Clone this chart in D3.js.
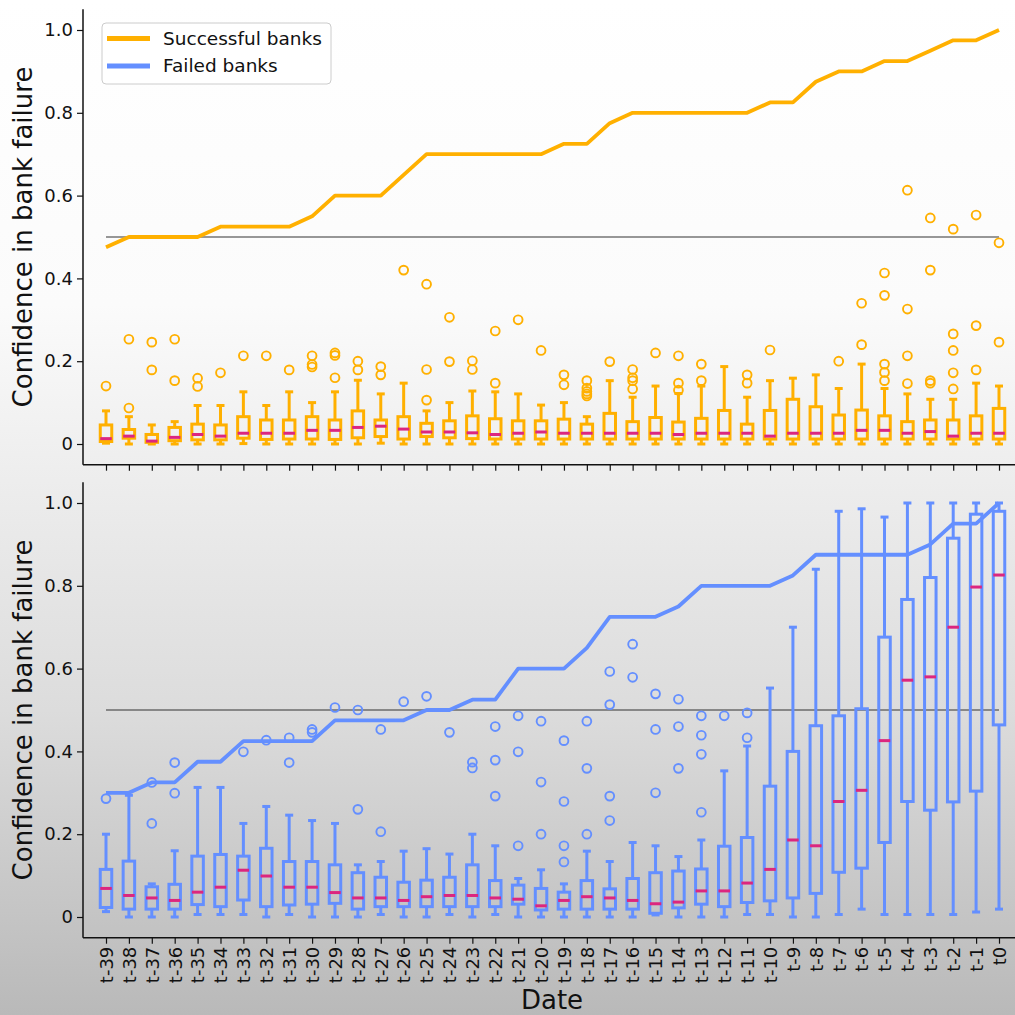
<!DOCTYPE html>
<html>
<head>
<meta charset="utf-8">
<script src="https://cdn.jsdelivr.net/npm/d3@7"></script>
<style>
  html, body { margin: 0; padding: 0; }
  svg { display: block; font-family: "DejaVu Sans", sans-serif; }
</style>
</head>
<body>
<svg id="chart" width="1015" height="1015"></svg>
<script>
// Dates before failure, oldest first
const dates = ["t-39","t-38","t-37","t-36","t-35","t-34","t-33","t-32","t-31","t-30",
  "t-29","t-28","t-27","t-26","t-25","t-24","t-23","t-22","t-21","t-20",
  "t-19","t-18","t-17","t-16","t-15","t-14","t-13","t-12","t-11","t-10",
  "t-9","t-8","t-7","t-6","t-5","t-4","t-3","t-2","t-1","t0"];

const yTicks = [0, 0.2, 0.4, 0.6, 0.8, 1.0];
const threshold = 0.5;

// Successful banks: accuracy line and per-date box statistics
const successLine = [0.475,0.5,0.5,0.5,0.5,0.525,0.525,0.525,0.525,0.55,
  0.6,0.6,0.6,0.65,0.7,0.7,0.7,0.7,0.7,0.7,
  0.725,0.725,0.775,0.8,0.8,0.8,0.8,0.8,0.8,0.825,
  0.825,0.875,0.9,0.9,0.925,0.925,0.95,0.975,0.975,1.0];
const successLow = [0.002,0,0,0,0,0,0.001,0,0,0,
  0,0,0.002,0,0,0,0,0,0,0,
  0,0,0,0,0,0,0,0,0,0,
  0,0,0,0,0,0,0,0,0,0];
const successQ1 = [0.006,0.014,0.004,0.008,0.010,0.010,0.014,0.011,0.012,0.012,
  0.011,0.015,0.018,0.012,0.018,0.015,0.013,0.012,0.012,0.012,
  0.012,0.012,0.012,0.012,0.012,0.012,0.012,0.012,0.012,0.012,
  0.012,0.012,0.012,0.012,0.012,0.012,0.012,0.012,0.012,0.012];
const successMedian = [0.013,0.019,0.007,0.016,0.023,0.019,0.026,0.026,0.026,0.033,
  0.033,0.040,0.043,0.036,0.029,0.029,0.027,0.023,0.026,0.029,
  0.026,0.026,0.026,0.026,0.026,0.023,0.026,0.026,0.026,0.019,
  0.026,0.026,0.026,0.033,0.033,0.026,0.030,0.019,0.026,0.026];
const successQ3 = [0.046,0.035,0.023,0.040,0.048,0.046,0.066,0.058,0.058,0.066,
  0.058,0.080,0.058,0.066,0.050,0.056,0.068,0.061,0.056,0.056,
  0.060,0.048,0.074,0.054,0.064,0.053,0.062,0.081,0.048,0.081,
  0.108,0.090,0.070,0.082,0.068,0.054,0.058,0.058,0.068,0.086];
const successHigh = [0.080,0.066,0.046,0.054,0.093,0.093,0.126,0.093,0.126,0.100,
  0.126,0.154,0.121,0.147,0.080,0.100,0.128,0.126,0.121,0.094,
  0.100,0.066,0.153,0.113,0.140,0.122,0.140,0.187,0.113,0.153,
  0.159,0.167,0.134,0.193,0.134,0.121,0.108,0.108,0.147,0.140];
const successOutliers = [[0.14],[0.253,0.087],[0.246,0.179],[0.253,0.153],[0.159,0.139],
  [0.172],[0.213],[0.213],[0.179],[0.213,0.192,0.186],
  [0.220,0.214,0.160],[0.200,0.179],[0.187,0.167],[0.420],[0.386,0.180,0.106],
  [0.306,0.199],[0.201,0.180],[0.273,0.147],[0.300],[0.226],
  [0.167,0.143],[0.153,0.135,0.127,0.121,0.116],[0.199],[0.180,0.160,0.153,0.133],[0.220],
  [0.213,0.147,0.130],[0.193,0.153],[],[0.167,0.147],[0.227],
  [],[],[0.200],[0.340,0.240],[0.413,0.359,0.193,0.173,0.153],
  [0.613,0.326,0.213,0.146],[0.546,0.420,0.153,0.147],[0.519,0.266,0.226,0.172,0.133],[0.553,0.286,0.179],[0.486,0.246]];

// Failed banks: accuracy line and per-date box statistics
const failedLine = [0.3,0.3,0.325,0.325,0.375,0.375,0.425,0.425,0.425,0.425,
  0.475,0.475,0.475,0.475,0.5,0.5,0.525,0.525,0.6,0.6,
  0.6,0.65,0.725,0.725,0.725,0.75,0.8,0.8,0.8,0.8,
  0.825,0.875,0.875,0.875,0.875,0.875,0.9,0.95,0.95,1.0];
const failedLow = [0.013,0,0,0,0.006,0.006,0.006,0,0.006,0,
  0,0,0.006,0,0,0.006,0,0.006,0,0,
  0,0,0,0,0.005,0,0,0,0.006,0.006,
  0,0,0.006,0.019,0.006,0.006,0.006,0.006,0.012,0.019];
const failedQ1 = [0.023,0.019,0.019,0.019,0.030,0.025,0.041,0.025,0.029,0.031,
  0.033,0.019,0.025,0.025,0.025,0.025,0.025,0.025,0.031,0.017,
  0.019,0.019,0.019,0.019,0.009,0.022,0.031,0.025,0.035,0.039,
  0.046,0.057,0.108,0.118,0.180,0.279,0.258,0.278,0.304,0.464];
const failedMedian = [0.069,0.052,0.046,0.040,0.060,0.072,0.113,0.099,0.072,0.072,
  0.059,0.046,0.046,0.040,0.049,0.052,0.052,0.046,0.043,0.027,
  0.040,0.049,0.046,0.040,0.032,0.036,0.063,0.063,0.082,0.115,
  0.186,0.172,0.279,0.306,0.426,0.572,0.580,0.700,0.797,0.826];
const failedQ3 = [0.115,0.135,0.073,0.079,0.147,0.151,0.147,0.166,0.134,0.134,
  0.126,0.107,0.096,0.084,0.089,0.096,0.126,0.088,0.077,0.069,
  0.060,0.088,0.068,0.093,0.107,0.111,0.116,0.171,0.192,0.316,
  0.400,0.462,0.486,0.503,0.676,0.767,0.820,0.915,0.973,0.980];
const failedHigh = [0.200,0.294,0.080,0.160,0.313,0.313,0.226,0.267,0.246,0.233,
  0.226,0.126,0.134,0.159,0.165,0.152,0.200,0.172,0.093,0.114,
  0.080,0.159,0.134,0.180,0.172,0.146,0.186,0.353,0.413,0.553,
  0.700,0.840,0.980,0.986,0.966,1.0,1.0,1.0,1.0,1.0];
const failedOutliers = [[0.286],[],[0.325,0.226],[0.373,0.299],[],
  [],[0.399],[0.427],[0.433,0.373],[0.453,0.446],
  [0.506],[0.500,0.260],[0.453,0.206],[0.520],[0.533],
  [0.446],[0.374,0.360],[0.460,0.379,0.292],[0.486,0.399,0.172],[0.473,0.326,0.200],
  [0.426,0.279,0.172,0.133],[0.473,0.359,0.200],[0.593,0.513,0.292,0.233],[0.659,0.579],[0.539,0.453,0.300],
  [0.526,0.460,0.359],[0.486,0.439,0.393,0.253],[0.486],[0.493,0.433],[],
  [],[],[],[],[],[],[],[],[],[]];

const ORANGE = "#FFB000";
const BLUE = "#648FFF";
const MEDIAN = "#DC267F";

const svg = d3.select("#chart");
const W = 1015, H = 1015;

// Page background: light at the top, fading to grey at the bottom
const defs = svg.append("defs");
const grad = defs.append("linearGradient").attr("id", "bg").attr("x1", 0).attr("y1", 0).attr("x2", 0).attr("y2", 1);
[[0, "#ffffff"], [0.3, "#fbfbfb"], [0.46, "#eeeeee"], [0.7, "#dcdcdc"], [1, "#b9b9b9"]]
  .forEach(([o, c]) => grad.append("stop").attr("offset", o).attr("stop-color", c));
svg.append("rect").attr("width", W).attr("height", H).attr("fill", "url(#bg)");

const axisLeftX = 83;
const xRight = 1022;
const x = d3.scalePoint().domain(dates).range([106, 999]);

function panel(cfg) {
  const y = d3.scaleLinear().domain([-0.05, 1.05]).range([cfg.bottom, cfg.top]);
  const g = svg.append("g");

  // threshold line
  g.append("line")
    .attr("x1", x(dates[0])).attr("x2", x(dates[dates.length - 1]))
    .attr("y1", y(threshold)).attr("y2", y(threshold))
    .attr("stroke", "#333").attr("stroke-width", 1.2);

  // accuracy line
  g.append("path")
    .datum(cfg.line)
    .attr("fill", "none")
    .attr("stroke", cfg.color)
    .attr("stroke-width", 3.8)
    .attr("stroke-linejoin", "round")
    .attr("d", d3.line().x((d, i) => x(dates[i])).y(d => y(d)));

  // box plots
  const boxW = 11.5, capW = 8;
  const boxes = g.append("g").attr("fill", "none").attr("stroke", cfg.color).attr("stroke-width", 3);
  dates.forEach((dt, i) => {
    const cx = x(dt);
    const bg = boxes.append("g");
    bg.append("line").attr("x1", cx).attr("x2", cx).attr("y1", y(cfg.low[i])).attr("y2", y(cfg.q1[i]));
    bg.append("line").attr("x1", cx).attr("x2", cx).attr("y1", y(cfg.q3[i])).attr("y2", y(cfg.high[i]));
    bg.append("line").attr("x1", cx - capW / 2).attr("x2", cx + capW / 2).attr("y1", y(cfg.low[i])).attr("y2", y(cfg.low[i]));
    bg.append("line").attr("x1", cx - capW / 2).attr("x2", cx + capW / 2).attr("y1", y(cfg.high[i])).attr("y2", y(cfg.high[i]));
    bg.append("rect").attr("x", cx - boxW / 2).attr("width", boxW)
      .attr("y", y(cfg.q3[i])).attr("height", Math.max(0, y(cfg.q1[i]) - y(cfg.q3[i])));
    bg.append("line").attr("x1", cx - boxW / 2).attr("x2", cx + boxW / 2)
      .attr("y1", y(cfg.med[i])).attr("y2", y(cfg.med[i]))
      .attr("stroke", MEDIAN).attr("stroke-width", 3);
    cfg.out[i].forEach(v => {
      bg.append("circle").attr("cx", cx).attr("cy", y(v)).attr("r", 4.4).attr("stroke-width", 1.9);
    });
  });

  // y axis
  const ya = g.append("g").attr("transform", `translate(${axisLeftX},0)`)
    .call(d3.axisLeft(y).tickValues(yTicks).tickSize(6).tickPadding(4)
      .tickFormat(d => d === 0 ? "0" : d3.format(".1f")(d)));
  ya.select(".domain").remove();
  ya.selectAll("text").attr("font-size", 18).attr("fill", "#111").attr("font-family", "DejaVu Sans, sans-serif");
  ya.selectAll("line").attr("stroke", "#111").attr("stroke-width", 1.2);

  // x axis
  const xa = g.append("g").attr("transform", `translate(0,${cfg.bottom})`)
    .call(d3.axisBottom(x).tickSize(6).tickSizeOuter(0));
  xa.select(".domain").remove();
  xa.selectAll("line").attr("stroke", "#111").attr("stroke-width", 1.2);
  if (cfg.labels) {
    xa.selectAll("text")
      .attr("font-size", 18).attr("fill", "#111").attr("font-family", "DejaVu Sans, sans-serif")
      .attr("transform", "rotate(-90)")
      .attr("text-anchor", "end")
      .attr("x", -9).attr("y", 0).attr("dy", "0.35em");
  } else {
    xa.selectAll("text").remove();
  }

  // spines
  g.append("line").attr("x1", axisLeftX).attr("x2", axisLeftX).attr("y1", cfg.top).attr("y2", cfg.bottom)
    .attr("stroke", "#111").attr("stroke-width", 1.5);
  g.append("line").attr("x1", axisLeftX).attr("x2", xRight).attr("y1", cfg.bottom).attr("y2", cfg.bottom)
    .attr("stroke", "#111").attr("stroke-width", 1.5);

  // y label
  g.append("text")
    .attr("transform", `translate(32,${(cfg.top + cfg.bottom) / 2}) rotate(-90)`)
    .attr("text-anchor", "middle")
    .attr("font-size", 26).attr("fill", "#111")
    .text("Confidence in bank failure");

  return y;
}

panel({ top: 9.3, bottom: 464.7, color: ORANGE, line: successLine,
  low: successLow, q1: successQ1, med: successMedian, q3: successQ3, high: successHigh, out: successOutliers, labels: false });
panel({ top: 482.3, bottom: 937.7, color: BLUE, line: failedLine,
  low: failedLow, q1: failedQ1, med: failedMedian, q3: failedQ3, high: failedHigh, out: failedOutliers, labels: true });

// x label
svg.append("text").attr("x", 552).attr("y", 1009).attr("text-anchor", "middle")
  .attr("font-size", 26).attr("fill", "#111").text("Date");

// legend
const leg = svg.append("g");
leg.append("rect").attr("x", 102).attr("y", 23).attr("width", 229).attr("height", 61).attr("rx", 4)
  .attr("fill", "#ffffff").attr("fill-opacity", 0.85).attr("stroke", "#cccccc").attr("stroke-width", 1);
const legendItems = [["Successful banks", ORANGE], ["Failed banks", BLUE]];
legendItems.forEach(([label, color], i) => {
  const ly = 38.5 + i * 27.5;
  leg.append("line").attr("x1", 107).attr("x2", 150).attr("y1", ly).attr("y2", ly)
    .attr("stroke", color).attr("stroke-width", 5);
  leg.append("text").attr("x", 163).attr("y", ly).attr("dy", "0.35em")
    .attr("font-size", 18.5).attr("fill", "#111").text(label);
});
</script>
</body>
</html>
